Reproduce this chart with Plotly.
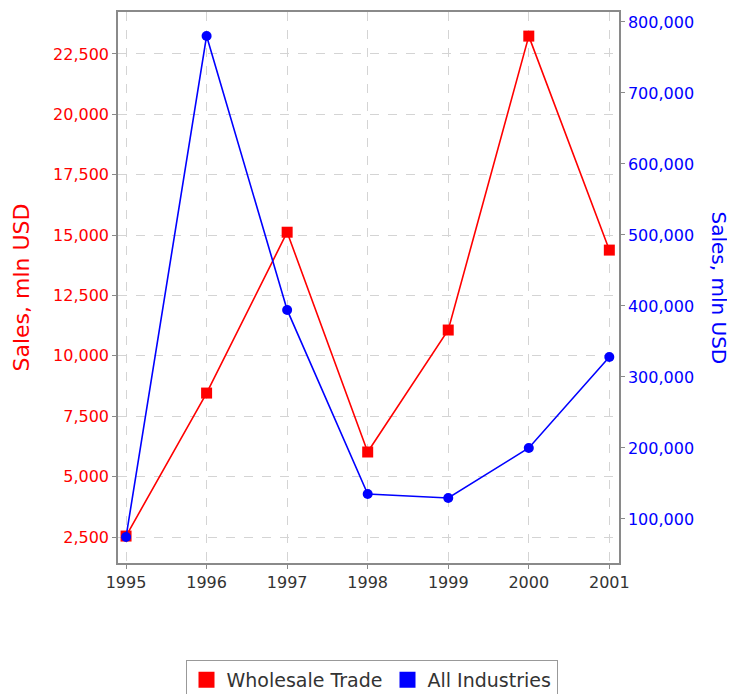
import plotly.graph_objects as go

years = [1995, 1996, 1997, 1998, 1999, 2000, 2001]
year_labels = ["1995", "1996", "1997", "1998", "1999", "2000", "2001"]
wholesale_trade = [2540, 8460, 15120, 6020, 11070, 23240, 14380]
all_industries = [74650, 780300, 394400, 135200, 129600, 200000, 328200]

RED = "#ff0000"
BLUE = "#0000ff"
FONT = "DejaVu Sans"

fig = go.Figure()

fig.add_trace(go.Scatter(
    x=years, y=wholesale_trade, name="Wholesale Trade",
    mode="lines+markers", yaxis="y",
    line=dict(color=RED, width=1.6),
    marker=dict(symbol="square", size=11, color=RED),
    showlegend=False,
))
fig.add_trace(go.Scatter(
    x=years, y=all_industries, name="All Industries",
    mode="lines+markers", yaxis="y2",
    line=dict(color=BLUE, width=1.6),
    marker=dict(symbol="circle", size=10, color=BLUE),
    showlegend=False,
))
# legend swatches
fig.add_trace(go.Scatter(
    x=[None], y=[None], name="Wholesale Trade", mode="markers",
    marker=dict(symbol="square", size=18, color=RED), showlegend=True,
))
fig.add_trace(go.Scatter(
    x=[None], y=[None], name="All Industries", mode="markers",
    marker=dict(symbol="square", size=18, color=BLUE), showlegend=True,
))

grid = "#d4d4d4"
axis_line = "#8a8a8a"

# page body has an 8px margin, so the figure is sized to fill the rest
W, H = 727, 686

fig.update_layout(
    width=W, height=H,
    margin=dict(l=110, r=116, t=4, b=131),
    paper_bgcolor="white", plot_bgcolor="white",
    font=dict(family=FONT, size=16, color="#333333"),
    xaxis=dict(
        range=[1994.9, 2001.12],
        tickvals=years, ticktext=year_labels,
        showgrid=True, gridcolor=grid, griddash="dash", gridwidth=1,
        showline=True, linecolor=axis_line, linewidth=1.5, mirror=True,
        ticks="outside", ticklen=4, tickcolor=axis_line,
        tickfont=dict(family=FONT, size=16, color="#333333"),
        zeroline=False, automargin=False,
    ),
    yaxis=dict(
        range=[1424, 24238], dtick=2500, tick0=0,
        tickformat=",d",
        showgrid=True, gridcolor=grid, griddash="dash", gridwidth=1,
        showline=True, linecolor=axis_line, linewidth=1.5,
        ticks="outside", ticklen=4, tickcolor=axis_line,
        tickfont=dict(family=FONT, size=16, color=RED),
        title=dict(text="Sales, mln USD", font=dict(family=FONT, size=22, color=RED), standoff=17),
        zeroline=False, automargin=False,
    ),
    yaxis2=dict(
        range=[38000, 814000], dtick=100000, tick0=0,
        tickformat=",d",
        overlaying="y", side="right",
        showgrid=False,
        showline=True, linecolor=axis_line, linewidth=1.5,
        ticks="outside", ticklen=4, tickcolor=axis_line,
        tickfont=dict(family=FONT, size=16, color=BLUE),
        zeroline=False, automargin=False,
    ),
    legend=dict(
        orientation="h", xref="container", yref="container",
        x=0.500, xanchor="center", y=1 - 652 / H, yanchor="top",
        bordercolor="#999999", borderwidth=1,
        font=dict(family=FONT, size=19, color="#333333"),
        itemsizing="trace",
    ),
    annotations=[dict(
        text="Sales, mln USD", textangle=90,
        xref="paper", yref="paper", x=1.0, y=0.5,
        xanchor="left", yanchor="middle", xshift=86, showarrow=False,
        font=dict(family=FONT, size=20, color=BLUE),
    )],
)
fig.update_layout(separators=".,")

fig.write_html("out.html")
